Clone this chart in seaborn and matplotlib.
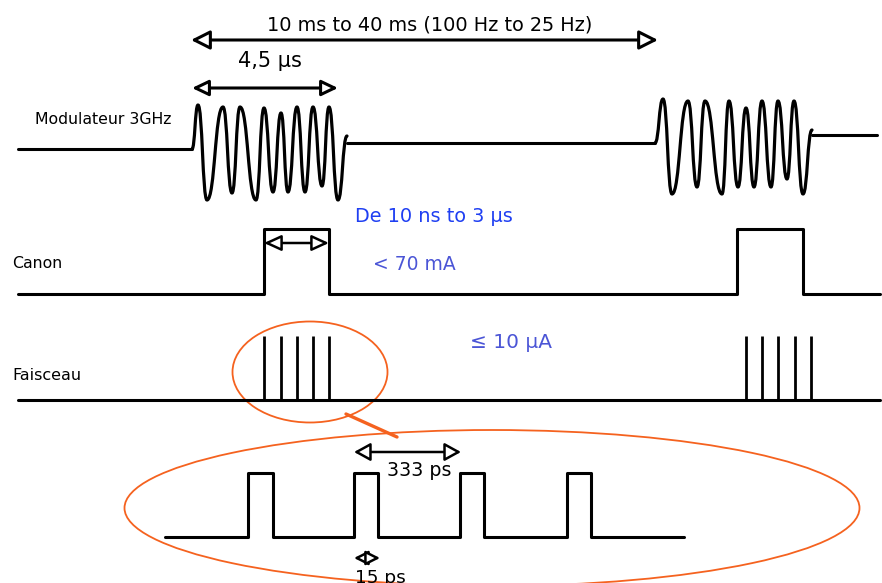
import pandas as pd
import seaborn as sns
import matplotlib.pyplot as plt
from matplotlib.path import Path
from matplotlib.patches import PathPatch, Ellipse

# Modulateur 3GHz : extrema successifs des deux trains d'onde
burst1_x = [192, 198, 207, 223, 232, 240, 256, 264, 273, 281, 288, 297, 305, 313, 322, 329, 338, 347]
burst1_y = [149, 105, 200, 107, 193, 107, 200, 108, 192, 113, 192, 107, 192, 107, 186, 107, 200, 136]
burst2_x = [655, 663, 672, 688, 697, 705, 722, 729, 738, 746, 754, 762, 771, 778, 787, 794, 803, 812]
burst2_y = [143, 99, 194, 101, 187, 101, 194, 101, 187, 108, 187, 101, 187, 101, 179, 101, 194, 130]

# paliers du modulateur (début, fin, niveau)
mod_flat_x0 = [18, 347, 812]
mod_flat_x1 = [192, 655, 877]
mod_flat_y = [149, 143, 135]

# Canon
canon_x = [18, 264, 264, 329, 329, 737, 737, 803, 803, 880]
canon_y = [294, 294, 229, 229, 294, 294, 229, 229, 294, 294]

# Faisceau
faisceau_base_y = 400
faisceau_top_y = 336
faisceau_pics = [264, 281, 297, 313, 329, 746, 762, 778, 795, 811]

# Zoom sur les paquets
zoom_x = [165, 248, 248, 273, 273, 354, 354, 378, 378, 460, 460, 484, 484, 567, 567, 591, 591, 684]
zoom_y = [537, 537, 473, 473, 537, 537, 473, 473, 537, 537, 473, 473, 537, 537, 473, 473, 537, 537]

NOIR = "black"
ORANGE = "#f5621f"
BLEU = "#1f3ff2"
BLEU2 = "#4b55d6"

sns.set_theme(style="white")
plt.rcParams["font.family"] = ["DejaVu Sans"]

fig = plt.figure(figsize=(8.82, 5.83), dpi=100)
ax = fig.add_axes([0, 0, 1, 1])
ax.set_xlim(0, 882)
ax.set_ylim(583, 0)
ax.axis("off")


def trace(xs, ys, lw=2.2):
    df = pd.DataFrame({"x": xs, "y": ys})
    sns.lineplot(data=df, x="x", y="y", sort=False, estimator=None,
                 color=NOIR, linewidth=lw, ax=ax)


def onde(xs, ys, k=0.5):
    verts = [(xs[0], ys[0])]
    codes = [Path.MOVETO]
    for x0, y0, x1, y1 in zip(xs[:-1], ys[:-1], xs[1:], ys[1:]):
        dx = x1 - x0
        verts += [(x0 + k * dx, y0), (x1 - k * dx, y1), (x1, y1)]
        codes += [Path.CURVE4] * 3
    ax.add_patch(PathPatch(Path(verts, codes), fill=False, edgecolor=NOIR,
                           linewidth=2.3, capstyle="round", joinstyle="round"))


def fleche(x0, x1, y, hl=11, hw=5, lw=2.0):
    ax.annotate("", xy=(x1, y), xytext=(x0, y),
                arrowprops=dict(arrowstyle=f"<|-|>,head_length={hl},head_width={hw}",
                                mutation_scale=1, fc="white", ec=NOIR, lw=lw,
                                shrinkA=0, shrinkB=0))


# Modulateur
for x0, x1, y in zip(mod_flat_x0, mod_flat_x1, mod_flat_y):
    trace([x0, x1], [y, y])
onde(burst1_x, burst1_y)
onde(burst2_x, burst2_y)

# Canon
trace(canon_x, canon_y)

# Faisceau
trace([18, 880], [faisceau_base_y, faisceau_base_y])
ax.vlines(faisceau_pics, faisceau_top_y, faisceau_base_y, color=NOIR, linewidth=2.0)

# Zoom
trace(zoom_x, zoom_y)

# Ellipses et liaison
ax.add_patch(Ellipse((310, 372), 155, 101, fill=False, edgecolor=ORANGE, linewidth=1.3))
ax.add_patch(Ellipse((492, 508), 735, 156, fill=False, edgecolor=ORANGE, linewidth=1.3))
ax.plot([346, 397], [414, 437], color=ORANGE, linewidth=2.4)

# Flèches
fleche(191, 658, 40, hl=11.5, hw=5.8, lw=2.2)
fleche(192, 338, 88, hl=10, hw=4.8, lw=2.2)
fleche(264, 329, 243, hl=10.5, hw=4.8, lw=1.8)
fleche(354, 461, 452, hl=10, hw=5.5, lw=1.8)
fleche(354, 380, 558, hl=8.5, hw=4.3, lw=1.8)

# Textes
ax.text(430, 25, "10 ms to 40 ms (100 Hz to 25 Hz)", fontsize=13.9, ha="center", va="center", color=NOIR)
ax.text(270, 61, "4,5 µs", fontsize=15, ha="center", va="center", color=NOIR)
ax.text(35, 120, "Modulateur 3GHz", fontsize=11.3, ha="left", va="center", color=NOIR)
ax.text(12, 263, "Canon", fontsize=11.3, ha="left", va="center", color=NOIR)
ax.text(12, 375, "Faisceau", fontsize=11.5, ha="left", va="center", color=NOIR)
ax.text(355, 217, "De 10 ns to 3 µs", fontsize=13.9, ha="left", va="center", color=BLEU)
ax.text(373, 264, "< 70 mA", fontsize=13.5, ha="left", va="center", color=BLEU2)
ax.text(470, 343, "≤ 10 µA", fontsize=14.5, ha="left", va="center", color=BLEU2)
ax.text(387, 470, "333 ps", fontsize=13.7, ha="left", va="center", color=NOIR)
ax.text(355, 578, "15 ps", fontsize=13.3, ha="left", va="center", color=NOIR)

fig.savefig("out.png", dpi=100)
